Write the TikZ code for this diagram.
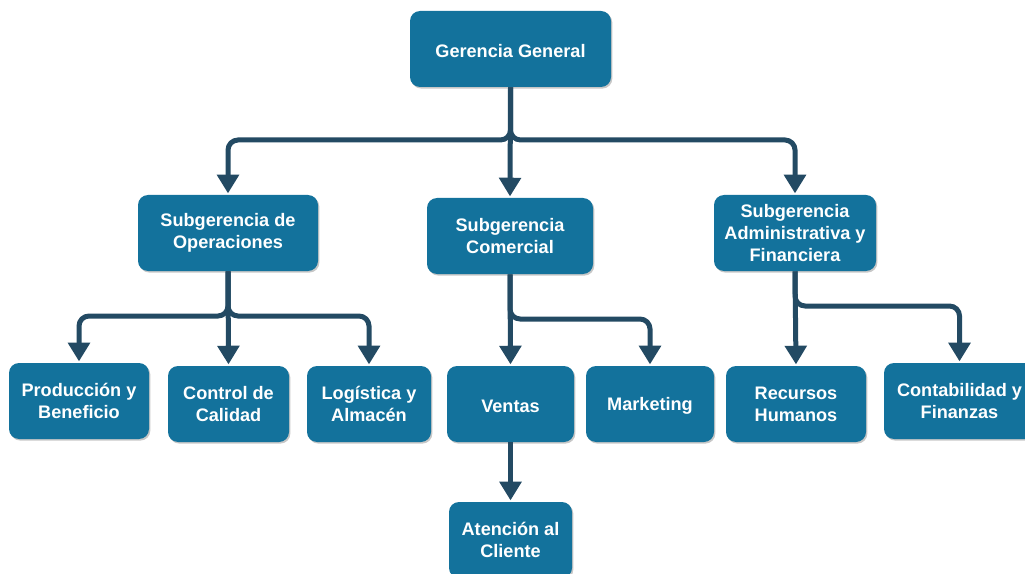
\documentclass[tikz,border=0pt]{standalone}
\usepackage{fontspec}
\setmainfont{Liberation Sans}
\usetikzlibrary{arrows.meta,shadows}
\definecolor{boxblue}{RGB}{19,114,156}
\definecolor{conncol}{RGB}{35,74,99}
\begin{document}
\begin{tikzpicture}[x=0.75pt,y=-0.75pt,
  box/.style 2 args={fill=boxblue, rounded corners=7.5pt, text=white,
    font=\bfseries\fontsize{13.6}{16.5}\selectfont, align=center, inner sep=0pt,
    minimum width=#1*0.75pt, minimum height=#2*0.75pt,
    execute at begin node={\rule{0pt}{13pt}},
    drop shadow={shadow xshift=1pt, shadow yshift=-1.2pt, opacity=0.22, fill=black}},
  conn/.style={draw=conncol, line width=3.75pt, rounded corners=7.5pt,
    -{Triangle[width=16pt,length=14pt]}, shorten >=1pt}]
\useasboundingbox (0,0) rectangle (1025,574);
\clip (0,0) rectangle (1025,574);

\node[box={201}{76}] (gg) at (510.5,49) {Gerencia General};
\node[box={180}{76}] (so) at (228,233) {Subgerencia de\\Operaciones};
\node[box={166}{76}] (sc) at (510,236) {Subgerencia\\Comercial};
\node[box={162}{76}] (sa) at (795,233) {Subgerencia\\Administrativa y\\Financiera};
\node[box={140}{76}] (pb) at (79,401) {Producción y\\Beneficio};
\node[box={121}{76}] (cc) at (228.5,404) {Control de\\Calidad};
\node[box={124}{76}] (la) at (369,404) {Logística y\\Almacén};
\node[box={127}{76}] (ve) at (510.5,404) {Ventas};
\node[box={128}{76}] (mk) at (650,404) {Marketing};
\node[box={140}{76}] (rh) at (796,404) {Recursos\\Humanos};
\node[box={151}{76}] (cf) at (959.5,401) {Contabilidad y\\Finanzas};
\node[box={123}{76}] (ac) at (510.5,540) {Atención al\\Cliente};

\coordinate (b1) at (510.5,140);
\coordinate (b2) at (228,316);
\coordinate (b3) at (510,319);
\coordinate (b4) at (795,306);

\draw[conn] (gg.south) -- (b1) -| (so.north);
\draw[conn] (gg.south) -- (b1) -| (sa.north);
\draw[conn] (gg.south) -- (sc.north);

\draw[conn] (so.south) -- (b2) -| (pb.north);
\draw[conn] (so.south) -- (b2) -| (la.north);
\draw[conn] (so.south) -- (cc.north);

\draw[conn] (sc.south) -- (ve.north);
\draw[conn] (sc.south) -- (b3) -| (mk.north);

\draw[conn] (sa.south) -- (rh.north);
\draw[conn] (sa.south) -- (b4) -| (cf.north);

\draw[conn] (ve.south) -- (ac.north);
\end{tikzpicture}
\end{document}
